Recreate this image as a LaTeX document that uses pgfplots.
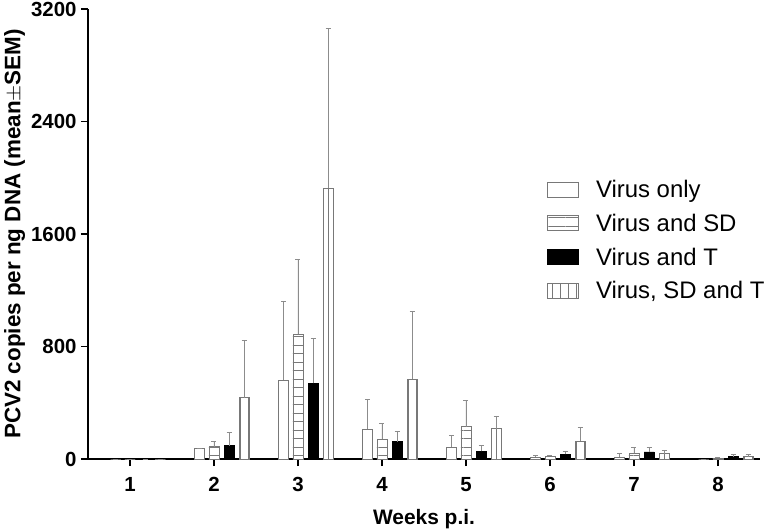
\documentclass[border=0pt]{standalone}
\usepackage{fontspec}
\setmainfont{Liberation Sans}
\usepackage{pgfplots}
\pgfplotsset{compat=1.18}
\usetikzlibrary{patterns.meta}
\definecolor{barline}{RGB}{120,120,120}
\definecolor{errc}{RGB}{140,140,140}
\begin{document}
\begin{tikzpicture}
\begin{axis}[
  scale only axis,
  width=672bp, height=450bp,
  xmin=0.5, xmax=8.5, ymin=0, ymax=3200,
  axis lines=left,
  axis line style={line width=1.6bp, -},
  xtick={1,...,8},
  ytick={0,800,1600,2400,3200},
  tick style={line width=1.8bp, black},
  tick align=outside,
  major tick length=7bp,
  x tick label style={font=\bfseries\fontsize{20.5}{24}\selectfont, yshift=-8bp},
  y tick label style={font=\bfseries\fontsize{20.5}{24}\selectfont, xshift=-1bp},
  /pgf/number format/assume math mode=true,
  /pgf/number format/1000 sep={},
  scaled y ticks=false,
  xlabel={\bfseries Weeks p.i.},
  ylabel={\bfseries PCV2 copies per ng DNA (mean$\pm$SEM)},
  label style={font=\bfseries\fontsize{21}{25}\selectfont},
  ylabel style={font=\bfseries\fontsize{22.5}{27}\selectfont, yshift=-1bp},
  xlabel style={yshift=-10bp},
  clip=false,
  bar width=0.12,
  legend style={draw=none, fill=none, at={(rel axis cs:0.683,0.486)}, anchor=west,
    font=\fontsize{24}{28}\selectfont, row sep=11bp, inner sep=0pt,
    nodes={inner xsep=9bp},
    /tikz/every odd column/.append style={column sep=8bp}},
  legend cell align=left,
  legend image code/.code={\draw[#1] (0bp,-7.5bp) rectangle (31bp,7.5bp);},
  error bars/y dir=plus,
  error bars/y explicit,
  error bars/error bar style={errc, line width=0.9bp},
  error bars/error mark options={errc, rotate=90, mark size=2.5bp, line width=0.9bp},
]
% Virus only
\addplot[ybar, bar shift=0pt, draw=barline, fill=white, line width=0.9bp]
  coordinates {(0.83,0)+-(0,0) (1.83,76)+-(0,0) (2.83,562)+-(0,555) (3.83,211)+-(0,211)
  (4.83,83)+-(0,85) (5.83,12)+-(0,12) (6.83,12)+-(0,28) (7.83,0)+-(0,0)};
\addlegendentry{Virus only}
% Virus and SD
\addplot[ybar, bar shift=0pt, draw=barline, fill=white, line width=0.9bp,
  postaction={pattern={Lines[angle=0,distance=8.5bp,line width=0.9bp]}, pattern color=barline}]
  coordinates {(1,0)+-(0,0) (2,88)+-(0,40) (3,887)+-(0,533) (4,140)+-(0,114)
  (5,230)+-(0,187) (6,19)+-(0,9) (7,40)+-(0,40) (8,6)+-(0,6)};
\addlegendentry{Virus and SD}
% Virus and T
\addplot[ybar, bar shift=0pt, draw=black, fill=black, line width=0.9bp]
  coordinates {(1.18,0)+-(0,0) (2.18,95)+-(0,93) (3.18,538)+-(0,322) (4.18,123)+-(0,74)
  (5.18,55)+-(0,40) (6.18,33)+-(0,24) (7.18,50)+-(0,33) (8.18,16)+-(0,17)};
\addlegendentry{Virus and T}
% Virus, SD and T
\addplot[ybar, bar shift=0pt, draw=barline, fill=white, line width=0.9bp,
  postaction={pattern={Lines[angle=90,distance=8bp,line width=0.9bp]}, pattern color=barline}]
  coordinates {(1.36,0)+-(0,0) (2.36,437)+-(0,403) (3.36,1925)+-(0,1138) (4.36,567)+-(0,485)
  (5.36,216)+-(0,90) (6.36,126)+-(0,97) (7.36,36)+-(0,26) (8.36,16)+-(0,14)};
\addlegendentry{Virus, SD and T}
\coordinate (o) at (rel axis cs:0,0);
\end{axis}
\pgfresetboundingbox
\path[use as bounding box] ([xshift=-88bp,yshift=-73bp]o) rectangle ([xshift=678bp,yshift=459bp]o);
\end{tikzpicture}
\end{document}
